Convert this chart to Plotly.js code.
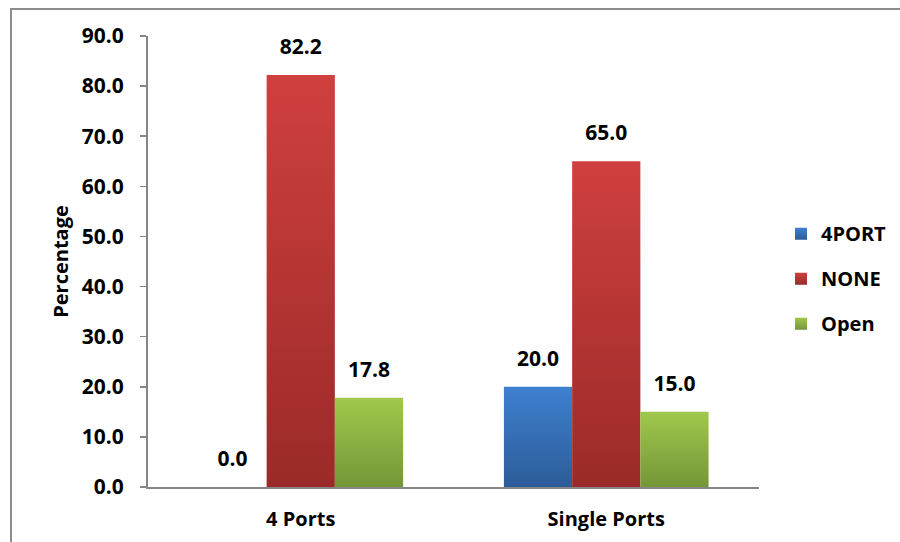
<!DOCTYPE html>
<html>
<head>
<meta charset="utf-8">
<script src="https://cdn.plot.ly/plotly-3.0.1.min.js"></script>
<style>
  html, body { margin: 0; padding: 0; background: #fff; }
  #wrap { position: relative; width: 900px; height: 542px; overflow: hidden; }
  #chart { position: absolute; left: 0; top: 0; width: 900px; height: 542px; }
  #frame { position: absolute; left: 10px; top: 8px; width: 920px; height: 600px;
           border-left: 2px solid #8c8c8c; border-top: 2px solid #8c8c8c; pointer-events: none; }
</style>
</head>
<body>
<div id="wrap">
  <div id="chart"></div>
  <div id="frame"></div>
</div>
<script>
// Port configuration shares, in percent
const categories = ['4 Ports', 'Single Ports'];
const seriesNames = ['4PORT', 'NONE', 'Open'];
const port4Values = [0.0, 20.0];
const noneValues = [82.2, 65.0];
const openValues = [17.8, 15.0];
const yTickValues = [0, 10, 20, 30, 40, 50, 60, 70, 80, 90];

const FONT = '"Open Sans", "Noto Sans", "Liberation Sans", sans-serif';

// top / bottom shades of each series' vertical gradient
const shades = [
  { id: 'gBlue',  top: '#3f80d0', bottom: '#2c5c98', mid: '#3670b8' },
  { id: 'gRed',   top: '#cf403e', bottom: '#9a2a29', mid: '#b73634' },
  { id: 'gGreen', top: '#a0c84c', bottom: '#759638', mid: '#8cb044' }
];

const seriesValues = [port4Values, noneValues, openValues];

const traces = seriesValues.map((vals, i) => ({
  type: 'bar',
  name: seriesNames[i],
  legendgroup: seriesNames[i],
  x: categories,
  y: vals,
  marker: { color: shades[i].mid, line: { width: 0 } },
  text: vals.map(v => v.toFixed(1)),
  textposition: 'outside',
  cliponaxis: false,
  textfont: { family: FONT, size: 21, color: '#000', weight: 'bold' },
  hoverinfo: 'skip'
}));

const layout = {
  width: 900,
  height: 542,
  margin: { l: 148, r: 141, t: 36, b: 55, autoexpand: false },
  paper_bgcolor: '#fff',
  plot_bgcolor: '#fff',
  barmode: 'group',
  bargap: 0.33,
  bargroupgap: 0,
  showlegend: true,
  legend: {
    x: 1.036, xanchor: 'left',
    y: 0.462, yanchor: 'middle',
    font: { family: FONT, size: 20, color: '#000', weight: 'bold' },
    tracegroupgap: 16,
    itemwidth: 30
  },
  xaxis: {
    type: 'category',
    showline: true,
    linecolor: '#868686',
    linewidth: 2,
    ticks: '',
    showgrid: false,
    zeroline: false,
    tickfont: { family: FONT, size: 20, color: '#000', weight: 'bold' },
    ticklabelstandoff: 13
  },
  yaxis: {
    range: [0, 90],
    tickvals: yTickValues,
    ticktext: yTickValues.map(v => v.toFixed(1)),
    showline: true,
    linecolor: '#868686',
    linewidth: 2,
    ticks: 'outside',
    ticklen: 6,
    tickcolor: '#868686',
    tickwidth: 1.5,
    showgrid: false,
    zeroline: false,
    tickfont: { family: FONT, size: 21, color: '#000', weight: 'bold' },
    ticklabelstandoff: 12,
    title: { text: 'Percentage', font: { family: FONT, size: 20, color: '#000', weight: 'bold' }, standoff: 8 }
  }
};

function applyGradients(gd) {
  const svg = gd.querySelector('svg.main-svg');
  if (!svg) return;
  const NS = 'http://www.w3.org/2000/svg';
  let defs = svg.querySelector('defs');
  if (!defs) { defs = document.createElementNS(NS, 'defs'); svg.insertBefore(defs, svg.firstChild); }
  shades.forEach(s => {
    if (defs.querySelector('#' + s.id)) return;
    const lg = document.createElementNS(NS, 'linearGradient');
    lg.setAttribute('id', s.id);
    lg.setAttribute('x1', '0'); lg.setAttribute('y1', '0');
    lg.setAttribute('x2', '0'); lg.setAttribute('y2', '1');
    [[0, s.top], [1, s.bottom]].forEach(([off, col]) => {
      const st = document.createElementNS(NS, 'stop');
      st.setAttribute('offset', off);
      st.setAttribute('stop-color', col);
      lg.appendChild(st);
    });
    defs.appendChild(lg);
  });
  // bar paths in the plot, with value labels lifted a little further off the bar tops
  gd.querySelectorAll('.barlayer .trace').forEach((tr, i) => {
    tr.querySelectorAll('path').forEach(p => { p.style.fill = 'url(#' + shades[i].id + ')'; });
    tr.querySelectorAll('text.bartext').forEach(t => {
      if (t.dataset.lifted) return;
      t.dataset.lifted = '1';
      t.setAttribute('transform', 'translate(0,-12) ' + (t.getAttribute('transform') || ''));
    });
  });
  // legend swatches
  gd.querySelectorAll('.legend .traces').forEach((tr, i) => {
    tr.querySelectorAll('.legendpoints path').forEach(p => { p.style.fill = 'url(#' + shades[i].id + ')'; });
  });
}

const gd = document.getElementById('chart');
Plotly.newPlot(gd, traces, layout, { staticPlot: true, displayModeBar: false }).then(() => {
  applyGradients(gd);
  gd.on && gd.on('plotly_afterplot', () => applyGradients(gd));
});
</script>
</body>
</html>
